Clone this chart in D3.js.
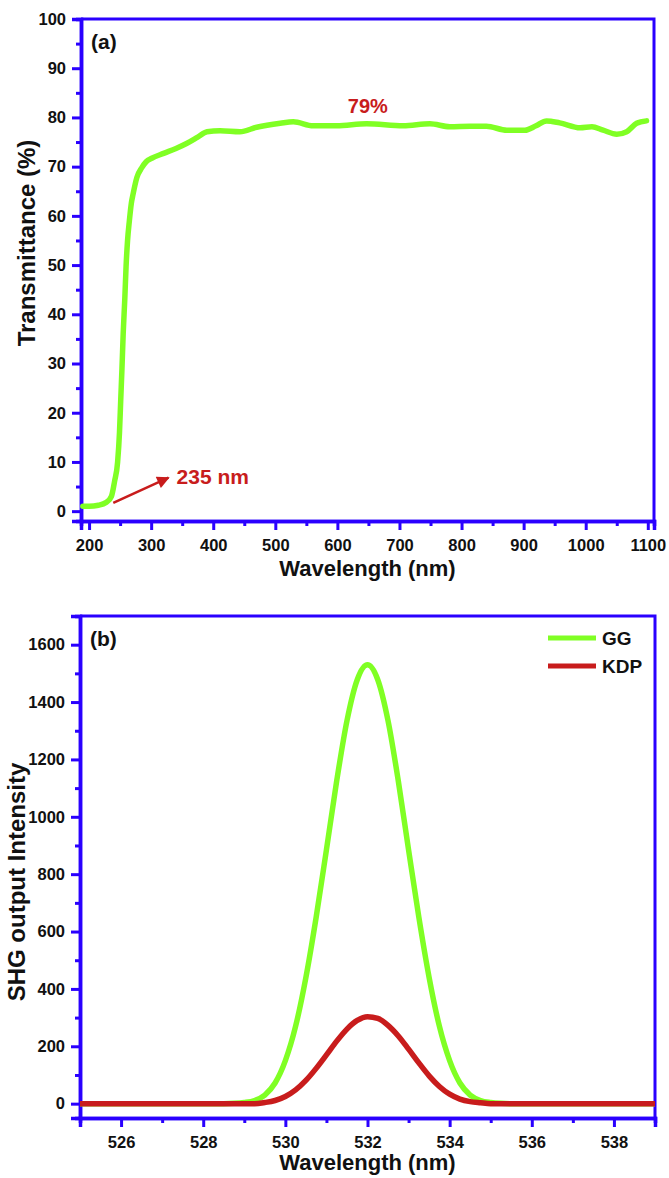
<!DOCTYPE html>
<html>
<head>
<meta charset="utf-8">
<script src="https://cdn.jsdelivr.net/npm/d3@7"></script>
<style>
  body { margin: 0; background: #fff; }
  svg { display: block; font-family: "Liberation Sans", Arial, sans-serif; font-weight: bold; }
</style>
</head>
<body>
<svg id="chart" width="669" height="1178"></svg>
<script>
// (a) transmittance spectrum
let transWave = [190, 200, 215, 228, 236, 241, 246, 249, 251, 253, 255, 257.5, 259.6, 262, 265, 268, 271, 277, 285, 292, 301, 320, 340, 357, 375, 390, 411, 443, 470, 508, 529, 561, 599, 647, 706, 749, 781, 814, 840, 873, 902, 920, 937, 958, 991, 1010, 1028, 1050, 1066, 1082, 1098];
let transPct = [1.0, 1.0, 1.2, 1.8, 3.0, 6.0, 10.0, 16, 22.6, 29, 36.2, 43, 49.7, 55, 59.1, 62.5, 64.5, 67.8, 69.8, 71.0, 71.7, 72.7, 73.7, 74.7, 76.0, 77.1, 77.3, 77.1, 78.0, 78.8, 79.1, 78.3, 78.3, 78.7, 78.3, 78.7, 78.1, 78.2, 78.2, 77.4, 77.4, 78.3, 79.3, 78.9, 77.9, 78.1, 77.4, 76.6, 77.1, 78.8, 79.3];
let transXTicks = [200, 300, 400, 500, 600, 700, 800, 900, 1000, 1100];
let transYTicks = [0, 10, 20, 30, 40, 50, 60, 70, 80, 90, 100];

// (b) SHG output
let shgWave = [525, 527, 528.5, 528.75, 529, 529.25, 529.5, 529.75, 530, 530.25, 530.5, 530.75, 531, 531.25, 531.5, 531.75, 532, 532.25, 532.5, 532.75, 533, 533.25, 533.5, 533.75, 534, 534.25, 534.5, 534.75, 535, 535.25, 535.5, 536, 538, 539];
let ggVals = [0, 0, 0, 1, 4, 11, 30, 72, 150, 270, 440, 650, 885, 1125, 1335, 1478, 1530, 1478, 1335, 1125, 885, 650, 440, 270, 150, 72, 30, 11, 4, 1, 0, 0, 0, 0];
let kdpVals = [0, 0, 0, 0, 0, 0, 4, 11, 25, 48, 81, 123, 170, 218, 260, 290, 303, 297, 273, 236, 190, 142, 97, 60, 33, 16, 7, 3, 0, 0, 0, 0, 0, 0];
let shgXTicks = [526, 528, 530, 532, 534, 536, 538];
let shgYTicks = [0, 200, 400, 600, 800, 1000, 1200, 1400, 1600];
let seriesNames = ["GG", "KDP"];

const blue = "#2a00ff", green = "#80ff24", red = "#c81c1c";
let svg = d3.select("#chart");

function panel(o) {
  let g = svg.append("g");
  let x = d3.scaleLinear().domain(o.xDomain).range([o.left, o.right]);
  let y = d3.scaleLinear().domain(o.yDomain).range([o.bottom, o.top]);

  // top + right frame
  g.append("path")
    .attr("d", `M${o.left},${o.top}H${o.right}V${o.bottom}`)
    .attr("fill", "none").attr("stroke", blue).attr("stroke-width", 3);

  let minorX = g.append("g").attr("transform", `translate(0,${o.bottom})`)
    .call(d3.axisBottom(x).tickValues(o.xMinor).tickSize(5).tickFormat(""));
  let majorX = g.append("g").attr("transform", `translate(0,${o.bottom})`)
    .call(d3.axisBottom(x).tickValues(o.xTicks).tickSize(9).tickPadding(9).tickFormat(d3.format("d")));
  let minorY = g.append("g").attr("transform", `translate(${o.left},0)`)
    .call(d3.axisLeft(y).tickValues(o.yMinor).tickSize(5).tickFormat(""));
  let majorY = g.append("g").attr("transform", `translate(${o.left},0)`)
    .call(d3.axisLeft(y).tickValues(o.yTicks).tickSize(9).tickPadding(6).tickFormat(d3.format("d")));

  [minorX, majorX, minorY, majorY].forEach(a => {
    a.select(".domain").attr("stroke", blue).attr("stroke-width", 3.5);
    a.selectAll(".tick line").attr("stroke", blue).attr("stroke-width", 3);
    a.selectAll(".tick text").attr("fill", "#111").attr("font-size", 16.5)
      .attr("font-family", "Liberation Sans, Arial, sans-serif").attr("font-weight", "bold");
  });

  g.append("text").attr("x", (o.left + o.right) / 2).attr("y", o.bottom + o.xTitleDy)
    .attr("text-anchor", "middle").attr("font-size", 22).attr("fill", "#111").text("Wavelength (nm)");
  g.append("text").attr("transform", `translate(${o.yTitleX},${o.yTitleY}) rotate(-90)`)
    .attr("text-anchor", "middle").attr("font-size", 24).attr("fill", "#111").text(o.yTitle);
  g.append("text").attr("x", o.left + 10).attr("y", o.top + 30)
    .attr("font-size", 21).attr("fill", "#111").text(o.label);
  return { g, x, y };
}

// ---- panel (a)
let a = panel({
  left: 81, right: 654, top: 19, bottom: 521,
  xDomain: [187, 1110], yDomain: [-2, 100],
  xTicks: transXTicks, xMinor: d3.range(250, 1100, 100),
  yTicks: transYTicks, yMinor: d3.range(5, 100, 10),
  xTitleDy: 55, yTitleX: 35, yTitleY: 243, yTitle: "Transmittance (%)", label: "(a)"
});

let lineA = d3.line().x((d, i) => a.x(transWave[i])).y(d => a.y(d)).curve(d3.curveMonotoneX);
a.g.append("path").datum(transPct).attr("d", lineA)
  .attr("fill", "none").attr("stroke", green).attr("stroke-width", 5.5).attr("stroke-linecap", "round");

svg.append("defs").append("marker").attr("id", "arrowhead")
  .attr("viewBox", "0 0 10 10").attr("refX", 9).attr("refY", 5)
  .attr("markerWidth", 6).attr("markerHeight", 5).attr("orient", "auto")
  .append("path").attr("d", "M0,0L10,5L0,10z").attr("fill", red);

a.g.append("line")
  .attr("x1", a.x(239)).attr("y1", a.y(1.7)).attr("x2", a.x(328)).attr("y2", a.y(6.8))
  .attr("stroke", red).attr("stroke-width", 2.5).attr("marker-end", "url(#arrowhead)");
a.g.append("text").attr("x", a.x(341)).attr("y", a.y(5.6))
  .attr("font-size", 21).attr("fill", red).text("235 nm");
a.g.append("text").attr("x", a.x(649)).attr("y", a.y(81))
  .attr("text-anchor", "middle").attr("font-size", 20).attr("fill", red).text("79%");

// ---- panel (b)
let b = panel({
  left: 80, right: 655, top: 616, bottom: 1118,
  xDomain: [525, 539], yDomain: [-50, 1700],
  xTicks: shgXTicks, xMinor: d3.range(525, 540, 2),
  yTicks: shgYTicks, yMinor: d3.range(100, 1700, 200),
  xTitleDy: 52, yTitleX: 25, yTitleY: 882, yTitle: "SHG output Intensity", label: "(b)"
});

let lineB = vals => d3.line().x((d, i) => b.x(shgWave[i])).y(d => b.y(d)).curve(d3.curveMonotoneX)(vals);
[[ggVals, green], [kdpVals, red]].forEach(([vals, c]) => {
  b.g.append("path").attr("d", lineB(vals))
    .attr("fill", "none").attr("stroke", c).attr("stroke-width", 5.5);
});

let legend = b.g.append("g");
seriesNames.forEach((n, i) => {
  let yy = 638 + i * 28;
  legend.append("line").attr("x1", 548).attr("x2", 596).attr("y1", yy).attr("y2", yy)
    .attr("stroke", i ? red : green).attr("stroke-width", 5);
  legend.append("text").attr("x", 602).attr("y", yy + 7)
    .attr("font-size", 19).attr("fill", "#111").text(n);
});
</script>
</body>
</html>
